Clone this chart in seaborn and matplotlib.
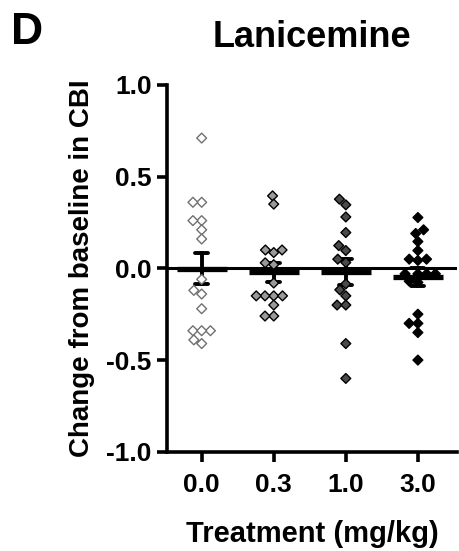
import numpy as np
import pandas as pd
import matplotlib
matplotlib.use("Agg")
import matplotlib.pyplot as plt
import seaborn as sns

doses = ["0.0", "0.3", "1.0", "3.0"]
g00 = [0.71, 0.36, 0.36, 0.26, 0.26, 0.21, 0.16, -0.06, -0.12, -0.14,
       -0.22, -0.34, -0.34, -0.34, -0.41, -0.39]
g03 = [0.395, 0.35, 0.10, 0.086, 0.10, 0.02, 0.03, -0.08, -0.15, -0.15,
       -0.15, -0.15, -0.20, -0.26, -0.26]
g10 = [0.377, 0.346, 0.28, 0.195, 0.124, 0.097, 0.05, 0.032, -0.085,
       -0.117, -0.15, -0.20, -0.20, -0.41, -0.60]
g30 = [0.277, 0.19, 0.21, 0.146, 0.097, 0.05, 0.043, 0.05, -0.03, -0.03,
       -0.03, -0.03, -0.077, -0.07, -0.25, -0.30, -0.30, -0.35, -0.50]
yticks = [-1.0, -0.5, 0.0, 0.5, 1.0]

face_colors = ["white", "#9a9a9a", "#4a4a4a", "black"]
edge_colors = ["#707070", "black", "black", "black"]

groups = [g00, g03, g10, g30]
df = pd.DataFrame({
    "dose": np.concatenate([[d] * len(g) for d, g in zip(doses, groups)]),
    "val": np.concatenate(groups),
})

sns.set_style("white")
plt.rcParams["font.family"] = ["Liberation Sans", "DejaVu Sans"]
plt.rcParams["font.weight"] = "bold"
plt.rcParams["axes.unicode_minus"] = False
plt.rcParams["text.color"] = "black"
plt.rcParams["axes.labelcolor"] = "black"
plt.rcParams["xtick.color"] = "black"
plt.rcParams["ytick.color"] = "black"

fig = plt.figure(figsize=(4.59, 5.51), dpi=100)
ax = fig.add_axes([0.364, 0.180, 0.632, 0.666])

ax.axhline(0, color="black", lw=2.2, zorder=1)

sns.pointplot(data=df, x="dose", y="val", order=doses, errorbar="se",
              capsize=0.18, color="black", marker="_", linestyle="none",
              markersize=36, markeredgewidth=3.8,
              err_kws={"linewidth": 2.8}, ax=ax, zorder=3)

sns.swarmplot(data=df, x="dose", y="val", order=doses, hue="dose",
              hue_order=doses, palette=face_colors, marker="D", size=5.0,
              linewidth=1.0, legend=False, ax=ax, zorder=4, clip_on=False)
pcs = [c for c in ax.collections if len(c.get_offsets()) > 0][-4:]
for pc, ec in zip(pcs, edge_colors):
    pc.set_edgecolor(ec)

ax.set_xlim(-0.48, 3.545)
ax.set_ylim(-1.0, 1.0)
ax.set_yticks(yticks)
ax.set_yticklabels([f"{t:.1f}" for t in yticks])
ax.set_xticks(range(len(doses)))
ax.set_xticklabels(doses)

for s in ["top", "right"]:
    ax.spines[s].set_visible(False)
for s in ["left", "bottom"]:
    ax.spines[s].set_linewidth(2.6)
    ax.spines[s].set_color("black")

ax.tick_params(axis="both", which="major", length=7, width=2.6,
               color="black", labelcolor="black", labelsize=19, pad=4,
               direction="out", left=True, bottom=True)
ax.tick_params(axis="x", pad=8)
for lab in ax.get_xticklabels() + ax.get_yticklabels():
    lab.set_fontweight("bold")

ax.set_xlabel("Treatment (mg/kg)", fontsize=21, fontweight="bold",
              labelpad=17, color="black")
ax.set_ylabel("Change from baseline in CBI", fontsize=20, fontweight="bold",
              labelpad=8, color="black")
ax.set_title("Lanicemine", fontsize=26, fontweight="bold", pad=27,
             color="black")
fig.text(0.025, 0.978, "D", fontsize=32, fontweight="bold", va="top",
         ha="left", color="black")

fig.savefig("out.png", dpi=100)
